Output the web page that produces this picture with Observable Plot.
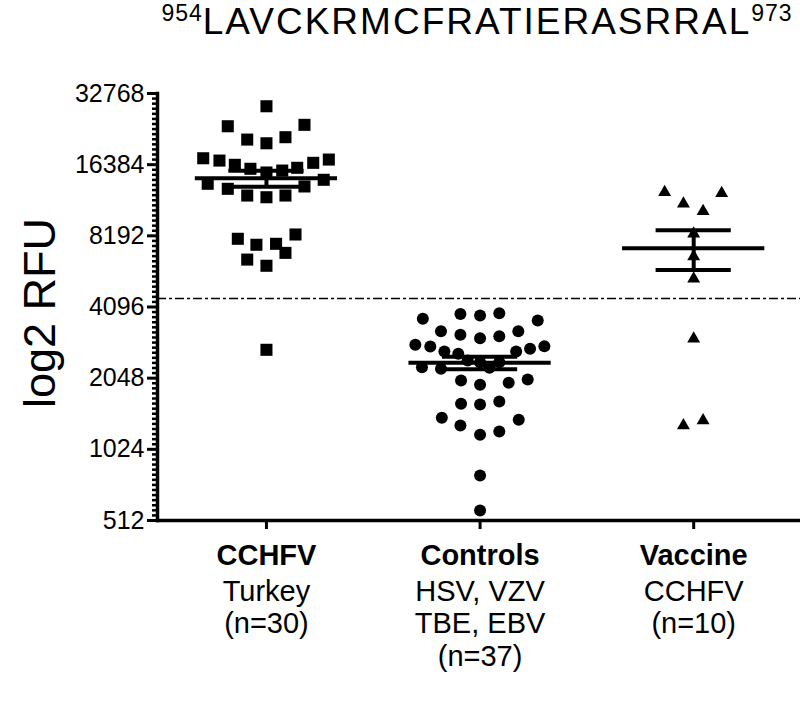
<!DOCTYPE html>
<html>
<head>
<meta charset="utf-8">
<script src="https://cdn.jsdelivr.net/npm/d3@7"></script>
<script src="https://cdn.jsdelivr.net/npm/@observablehq/plot@0.6"></script>
<style>
  body { margin: 0; background: #fff; font-family: "Liberation Sans", Arial, sans-serif; }
  #wrap { position: relative; width: 800px; height: 716px; }
  #title { position: absolute; left: 154px; top: 0; width: 646px; height: 60px; text-align: center;
           font-size: 37px; line-height: 37px; padding-top: 3px; color: #000; white-space: nowrap; letter-spacing: 2px; }
  #title .sup { font-size: 23px; letter-spacing: 1px; position: relative; top: -13px; }
  #chart { position: absolute; left: 0; top: 60px; }
</style>
</head>
<body>
<div id="wrap">
  <div id="title"></div>
  <div id="chart"></div>
</div>
<script>
// ---- data ----
const titleStart = "954";
const titleSeq = "LAVCKRMCFRATIERASRRAL";
const titleEnd = "973";

const groups = ["CCHFV", "Controls", "Vaccine"];
const groupSubLabels = ["Turkey\n(n=30)", "HSV, VZV\nTBE, EBV\n(n=37)", "CCHFV\n(n=10)"];

const cchfvValues = [28940, 23820, 24150, 20920, 20180, 21410, 17440, 17050, 16360, 15740,
  15180, 15470, 15890, 16680, 17220, 13600, 12950, 12130, 11930, 12130,
  13250, 14140, 7960, 7510, 7580, 8300, 6500, 6120, 6940, 2700];
const cchfvOffsets = [0, -0.181, 0.178, -0.090, 0, 0.089, -0.296, -0.220, -0.148, -0.075,
  0, 0.074, 0.144, 0.219, 0.292, -0.275, -0.181, -0.090, 0, 0.089,
  0.178, 0.268, -0.134, -0.047, 0.045, 0.136, -0.090, 0, 0.089, 0];

const controlsValues = [3650, 3830, 3770, 3856, 3590, 3236, 3124, 3021, 3082, 3236,
  2835, 2788, 2656, 2597, 2656, 2726, 2796, 2279, 2245, 2433,
  2393, 2265, 2393, 2002, 1920, 1958, 2021, 1596, 1585, 1631,
  1393, 1292, 1180, 1219, 1365, 794, 564];
const controlsOffsets = [-0.268, -0.092, 0, 0.090, 0.270, -0.183, -0.092, 0, 0.090, 0.179,
  -0.303, -0.233, -0.167, -0.102, 0.169, 0.234, 0.301, -0.272, -0.183, -0.058,
  0, 0.044, 0.090, -0.089, 0, 0.134, 0.223, -0.089, 0, 0.090,
  -0.179, -0.092, 0, 0.090, 0.181, 0, 0];

const vaccineValues = [12530, 12410, 11190, 10410, 8355, 6697, 5390, 3004, 1292, 1356];
const vaccineOffsets = [-0.136, 0.131, -0.048, 0.044, 0, 0, 0, 0, -0.048, 0.044];

const yTicks = [512, 1024, 2048, 4096, 8192, 16384, 32768];
const cutoff = 4450;

// ---- build tables ----
const seriesValues = [cchfvValues, controlsValues, vaccineValues];
const seriesOffsets = [cchfvOffsets, controlsOffsets, vaccineOffsets];
const points = seriesValues.map((vals, g) =>
  vals.map((v, j) => ({ g, x: g + seriesOffsets[g][j], value: v })));
const stats = seriesValues.map((vals, g) => {
  const m = d3.mean(vals);
  const sem = d3.deviation(vals) / Math.sqrt(vals.length);
  return { g, mean: m, lo: m - sem, hi: m + sem };
});
const minorTicks = [];
for (let e = 9; e < 15; e++) {
  for (let k = 1; k < 14; k++) minorTicks.push(Math.pow(2, e + k / 14));
}

// ---- title ----
document.getElementById("title").innerHTML =
  `<span class="sup">${titleStart}</span>${titleSeq}<span class="sup">${titleEnd}</span>`;

// ---- chart ----
const meanHalf = 0.333, semHalf = 0.176;
const chart = Plot.plot({
  width: 800,
  height: 656,
  marginLeft: 157,
  marginRight: 0,
  marginTop: 33,
  marginBottom: 196,
  style: { fontFamily: "Liberation Sans, Arial, sans-serif", color: "#000", background: "#fff", overflow: "visible" },
  x: { type: "linear", domain: [-0.51, 2.5] },
  y: { type: "log", base: 2, domain: [512, 32768] },
  marks: [
    Plot.ruleY([cutoff], { stroke: "#000", strokeWidth: 1.6, strokeDasharray: "9,3,3,3" }),
    Plot.dot(points[0], { x: "x", y: "value", symbol: "square", r: 6.8, fill: "#000", stroke: null }),
    Plot.dot(points[1], { x: "x", y: "value", symbol: "circle", r: 6, fill: "#000", stroke: null }),
    Plot.dot(points[2], { x: "x", y: "value", symbol: "triangle", r: 4.8, fill: "#000", stroke: null }),
    Plot.ruleY(stats, { y: "mean", x1: d => d.g - meanHalf, x2: d => d.g + meanHalf, stroke: "#000", strokeWidth: 4 }),
    Plot.ruleY(stats, { y: "hi", x1: d => d.g - semHalf, x2: d => d.g + semHalf, stroke: "#000", strokeWidth: 4 }),
    Plot.ruleY(stats, { y: "lo", x1: d => d.g - semHalf, x2: d => d.g + semHalf, stroke: "#000", strokeWidth: 4 }),
    Plot.ruleX(stats, { x: "g", y1: "lo", y2: "hi", stroke: "#000", strokeWidth: 4 }),
    Plot.axisY({ ticks: minorTicks, tickSize: 5, tickFormat: () => "", strokeWidth: 2.5, label: null }),
    Plot.axisY({ ticks: yTicks, tickSize: 10, tickPadding: 3, fontSize: 25, tickFormat: d => String(d), strokeWidth: 3, label: null }),
    Plot.axisX({ ticks: [0, 1, 2], tickSize: 9, tickFormat: () => "", strokeWidth: 3, label: null }),
    Plot.frame({ anchor: "left", stroke: "#000", strokeWidth: 3.5 }),
    Plot.frame({ anchor: "bottom", stroke: "#000", strokeWidth: 3.5 }),
    Plot.text(groups, { x: (d, i) => i, frameAnchor: "bottom", dy: 24, lineAnchor: "top", text: d => d,
      fontSize: 29, fontWeight: "bold", fill: "#000" }),
    Plot.text(groupSubLabels, { x: (d, i) => i, frameAnchor: "bottom", dy: 57, lineAnchor: "top", text: d => d,
      fontSize: 29, lineHeight: 1.12, fill: "#000" }),
    Plot.text(["log2 RFU"], { frameAnchor: "left", textAnchor: "middle", dx: -117, dy: 6, rotate: -90, text: d => d,
      fontSize: 45, fill: "#000" })
  ]
});
document.getElementById("chart").appendChild(chart);
</script>
</body>
</html>
